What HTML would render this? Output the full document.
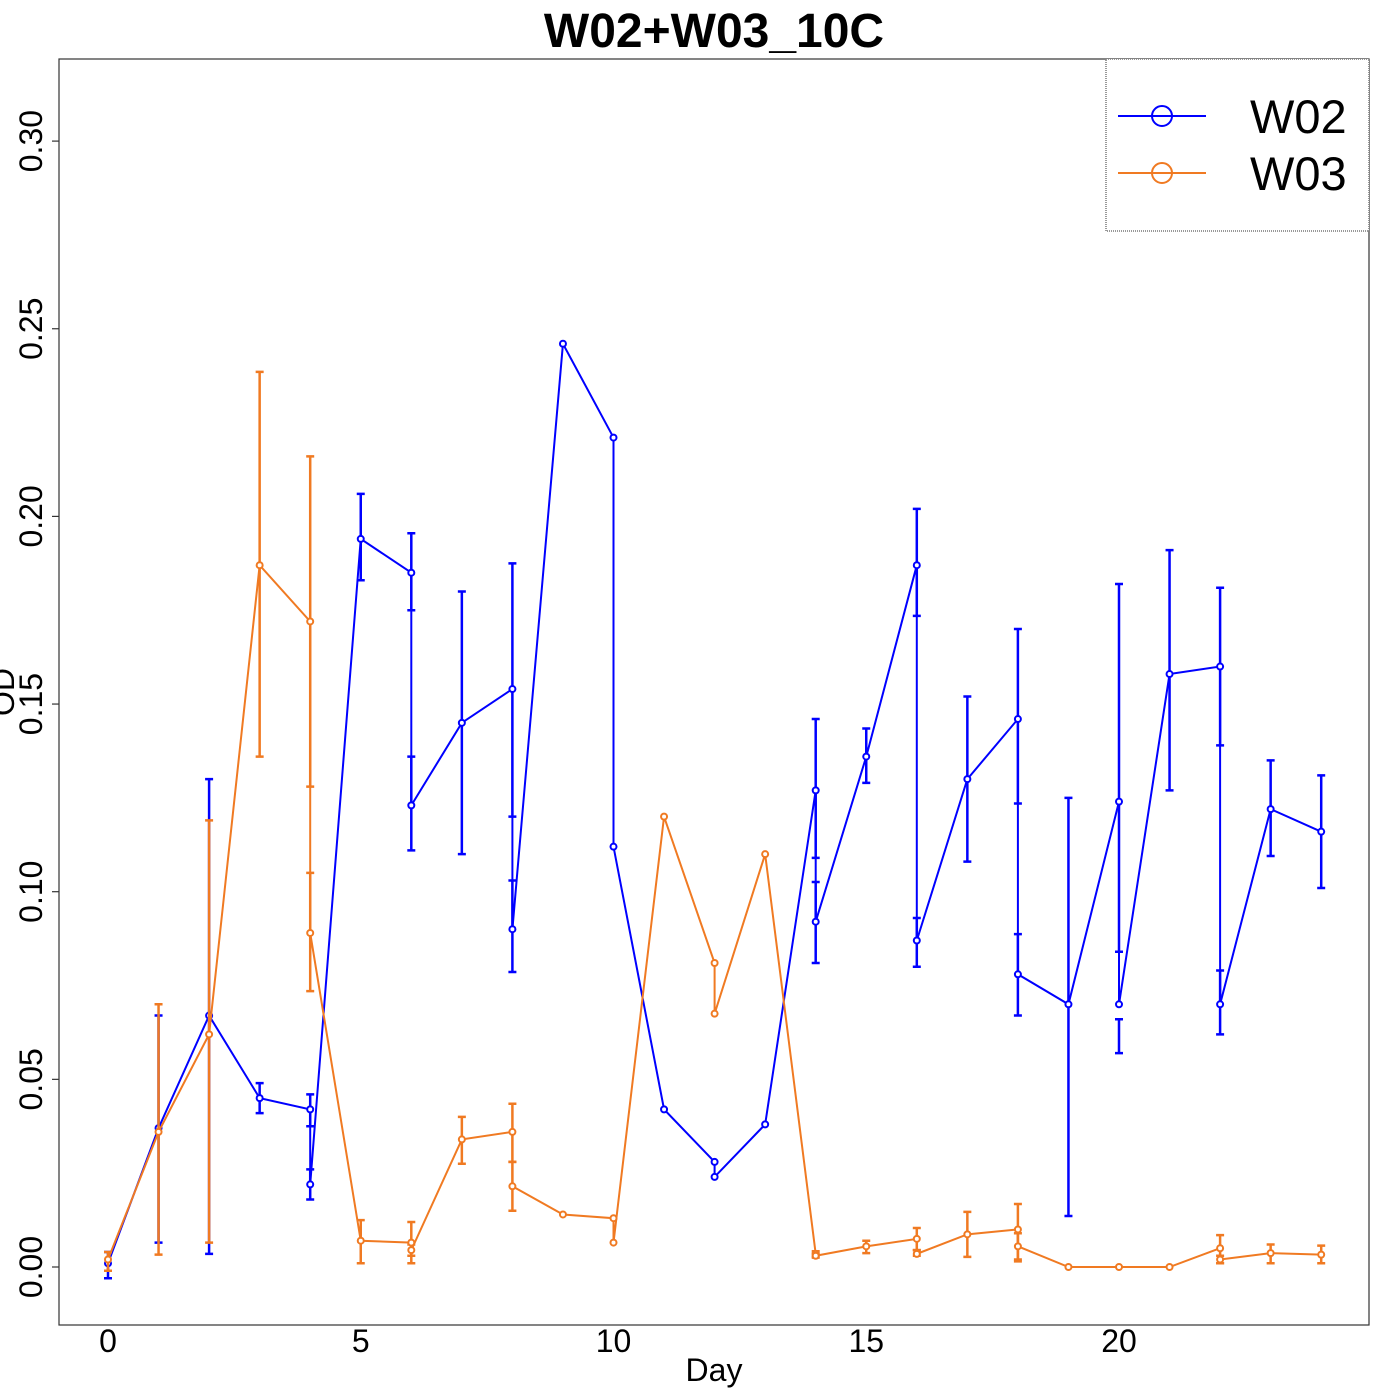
<!DOCTYPE html>
<html><head><meta charset="utf-8"><style>
body{margin:0;background:#fff;}
svg{display:block;font-family:"Liberation Sans",sans-serif;}
</style></head><body>
<svg id="chart" width="1400" height="1400" xmlns="http://www.w3.org/2000/svg">
<rect x="0" y="0" width="1400" height="1400" fill="#fff"/>
<text x="714" y="47" font-size="48" font-weight="bold" text-anchor="middle">W02+W03_10C</text>
<rect x="59" y="59" width="1310" height="1266" fill="none" stroke="#333" stroke-width="1.2"/>
<g id="axes"></g>
<g id="series"></g>
<text x="714" y="1381" font-size="32" text-anchor="middle">Day</text>
<text x="0" y="0" font-size="32" text-anchor="middle" transform="translate(14,692) rotate(-90)">OD</text>
<g>
<rect x="1106" y="59" width="263" height="172" fill="#fff" stroke="#333" stroke-width="1" stroke-dasharray="1,1"/>
<g>
<line x1="1118" y1="116" x2="1206" y2="116" stroke="#0000ff" stroke-width="2"/>
<circle cx="1162" cy="116" r="10" fill="none" stroke="#0000ff" stroke-width="2"/>
<text x="1250" y="133" font-size="47">W02</text></g>
<g>
<line x1="1118" y1="173" x2="1206" y2="173" stroke="#f07a22" stroke-width="2"/>
<circle cx="1162" cy="173" r="10" fill="none" stroke="#f07a22" stroke-width="2"/>
<text x="1250" y="190" font-size="47">W03</text></g>
</g>
</svg>
<script>
const xTicks=[0,5,10,15,20];
const yTicks=[0,0.05,0.10,0.15,0.20,0.25,0.30];
const yTickLabels=["0.00","0.05","0.10","0.15","0.20","0.25","0.30"];
const w02Days=[0,1,2,3,4,4,5,6,6,7,8,8,9,10,10,11,12,12,13,14,14,15,16,16,17,18,18,19,20,20,21,22,22,23,24];
const w02Vals=[0.001,0.037,0.067,0.045,0.042,0.022,0.194,0.185,0.123,0.145,0.154,0.090,0.246,0.221,0.112,0.042,0.028,0.024,0.038,0.127,0.092,0.136,0.187,0.087,0.130,0.146,0.078,0.070,0.124,0.070,0.158,0.160,0.070,0.122,0.116];
const w02Lo=[-0.003,0.0065,0.0035,0.041,0.0375,0.018,0.183,0.175,0.111,0.110,0.120,0.0786,null,null,null,null,null,null,null,0.109,0.081,0.129,0.1735,0.080,0.108,0.1235,0.067,0.0136,0.084,0.057,0.127,0.139,0.062,0.1095,0.101];
const w02Hi=[0.004,0.067,0.130,0.049,0.046,0.026,0.206,0.1955,0.136,0.180,0.1875,0.103,null,null,null,null,null,null,null,0.146,0.1026,0.1435,0.202,0.093,0.152,0.170,0.0887,0.125,0.182,0.066,0.191,0.181,0.079,0.135,0.131];
const w03Days=[0,1,2,3,4,4,5,6,6,7,8,8,9,10,10,11,12,12,13,14,14,15,16,16,17,18,18,19,20,21,22,22,23,24];
const w03Vals=[0.002,0.036,0.062,0.187,0.172,0.089,0.007,0.0065,0.0045,0.034,0.036,0.0215,0.014,0.013,0.0065,0.120,0.081,0.0675,0.110,0.0035,0.003,0.0055,0.0075,0.0035,0.0087,0.010,0.0055,0,0,0,0.005,0.002,0.0037,0.0033];
const w03Lo=[-0.001,0.0033,0.0065,0.136,0.128,0.0735,0.001,0.001,0.003,0.0275,0.028,0.015,null,null,null,null,null,null,null,0.0028,0.0025,0.0037,0.0045,0.003,0.0027,0.002,0.0015,null,null,null,0.001,0.001,0.001,0.001];
const w03Hi=[0.004,0.070,0.119,0.2385,0.216,0.105,0.0125,0.012,0.006,0.040,0.0435,0.028,null,null,null,null,null,null,null,0.0042,0.0035,0.007,0.0104,0.0045,0.0147,0.0168,0.009,null,null,null,0.0085,0.003,0.006,0.0057];

const NS="http://www.w3.org/2000/svg";
const xs=d=>108+d*50.55;
const ys=v=>1267-v*3753;
function mk(tag,attrs,parent){const e=document.createElementNS(NS,tag);for(const k in attrs)e.setAttribute(k,attrs[k]);parent.appendChild(e);return e;}
const axes=document.getElementById('axes');
xTicks.forEach(t=>{
  const tx=mk('text',{x:xs(t),y:1352,'font-size':32,'text-anchor':'middle'},axes);
  tx.textContent=String(t);
  
  
});
yTicks.forEach((t,i)=>{
  const l=mk('line',{x1:52,x2:59,y1:ys(t),y2:ys(t),stroke:'#333','stroke-width':1.2},axes);
  
  
  const tx=mk('text',{x:0,y:0,'font-size':32,'text-anchor':'middle',transform:`translate(42,${ys(t)}) rotate(-90)`},axes);
  tx.textContent=yTickLabels[i];
  
  
});
const sg=document.getElementById('series');
function drawSeries(days,vals,lo,hi,color,name){
  const g=mk('g',{},sg);
  
  
  days.forEach((d,i)=>{
    if(lo[i]==null)return;
    const x=xs(d);
    const eb=mk('path',{d:`M${x},${ys(lo[i])}V${ys(hi[i])}M${x-4},${ys(lo[i])}H${x+4}M${x-4},${ys(hi[i])}H${x+4}`,stroke:color,'stroke-width':2.5,fill:'none'},g);
    
    
  });
  const pts=days.map((d,i)=>xs(d)+','+ys(vals[i])).join(' ');
  const pl=mk('polyline',{points:pts,fill:'none',stroke:color,'stroke-width':2},g);
  
  
  days.forEach((d,i)=>{
    const c=mk('circle',{cx:xs(d),cy:ys(vals[i]),r:3,fill:'#fff',stroke:color,'stroke-width':2},g);
    
    
  });
}
drawSeries(w02Days,w02Vals,w02Lo,w02Hi,'#0000ff','w02');
drawSeries(w03Days,w03Vals,w03Lo,w03Hi,'#f07a22','w03');
</script>
</body></html>
